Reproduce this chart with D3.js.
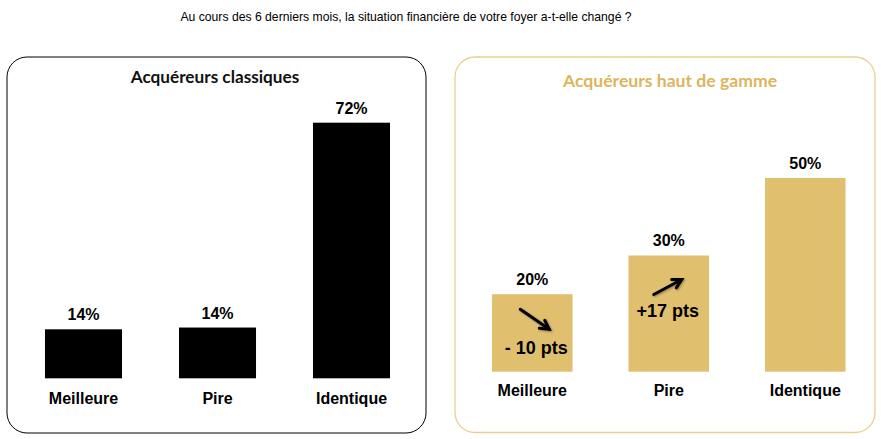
<!DOCTYPE html>
<html><head><meta charset="utf-8">
<script src="https://cdn.jsdelivr.net/npm/d3@7"></script>
<style>body{margin:0;background:#fff}svg{display:block}</style>
</head><body>
<svg id="c" width="881" height="439"></svg>
<script>
// ---- data ----
const mainTitle = "Au cours des 6 derniers mois, la situation financière de votre foyer a-t-elle changé ?";
const categories = ["Meilleure", "Pire", "Identique"];
const classiquesTitle = "Acquéreurs classiques";
const classiquesValues = [13.8, 14.3, 72];
const classiquesLabels = ["14%", "14%", "72%"];
const hautTitle = "Acquéreurs haut de gamme";
const hautValues = [20, 30, 50];
const hautLabels = ["20%", "30%", "50%"];
const hautEvolution = ["- 10 pts", "+17 pts", null];
const hautDirection = [-1, 1, 0];

const gold = "#e0bf6f", goldText = "#dcb55c", goldBorder = "#e9cf93";
const svg = d3.select("#c");

svg.append("text").attr("x", 406).attr("y", 21).attr("text-anchor", "middle")
  .attr("font-family", "Liberation Sans, Arial, sans-serif").attr("font-size", 12.2).attr("fill", "#000")
  .text(mainTitle);

// panel frames
svg.append("rect").attr("x", 7).attr("y", 57).attr("width", 419).attr("height", 376)
  .attr("rx", 20).attr("fill", "none").attr("stroke", "#000").attr("stroke-width", 1);
svg.append("rect").attr("x", 455).attr("y", 57).attr("width", 420).attr("height", 375.5)
  .attr("rx", 20).attr("fill", "none").attr("stroke", goldBorder).attr("stroke-width", 1.3);

const titleFont = "Lato, 'Century Gothic', sans-serif";
svg.append("text").attr("x", 215).attr("y", 83).attr("text-anchor", "middle")
  .attr("font-family", titleFont).attr("font-weight", "bold").attr("font-size", 17.2).attr("fill", "#111")
  .text(classiquesTitle);
svg.append("text").attr("x", 670).attr("y", 86.5).attr("text-anchor", "middle")
  .attr("font-family", titleFont).attr("font-weight", "bold").attr("font-size", 17.6).attr("fill", goldText)
  .text(hautTitle);

const labelFont = "Liberation Sans, Arial, sans-serif";

function panel(opts) {
  const x = d3.scaleBand().domain(categories).range(opts.xr).paddingInner(opts.pi).paddingOuter(opts.pi / 2);
  const y = d3.scaleLinear().domain([0, opts.maxV]).range(opts.yr);
  const g = svg.append("g");
  g.selectAll("rect.bar").data(opts.values).join("rect").attr("class", "bar")
    .attr("x", (d, i) => x(categories[i])).attr("width", x.bandwidth())
    .attr("y", d => y(d)).attr("height", d => y(0) - y(d)).attr("fill", opts.color);
  g.selectAll("text.val").data(opts.values).join("text").attr("class", "val")
    .attr("x", (d, i) => x(categories[i]) + x.bandwidth() / 2).attr("y", d => y(d) - 9)
    .attr("text-anchor", "middle").attr("font-family", labelFont).attr("font-weight", "bold")
    .attr("font-size", 16).text((d, i) => opts.labels[i]);
  const axis = d3.axisBottom(x).tickSize(0).tickPadding(0);
  const ag = g.append("g").attr("transform", `translate(0,${opts.catY})`).call(axis);
  ag.select(".domain").remove();
  ag.selectAll("text").attr("font-family", labelFont).attr("font-weight", "bold")
    .attr("font-size", 16).attr("fill", "#000").attr("dy", 0);
  return {x, y, g};
}

panel({xr: [16.5, 418.5], pi: 0.425, maxV: 72, yr: [378.3, 122.7], values: classiquesValues,
  labels: classiquesLabels, color: "#000", catY: 404});
const hp = panel({xr: [464, 873.5], pi: 0.41, maxV: 50, yr: [371.7, 178], values: hautValues,
  labels: hautLabels, color: gold, catY: 396});

// evolution annotations
const defs = svg.append("defs");
const f = defs.append("filter").attr("id", "sh").attr("x", "-20%").attr("y", "-20%").attr("width", "140%").attr("height", "140%");
f.append("feDropShadow").attr("dx", 1).attr("dy", 1).attr("stdDeviation", 0.8).attr("flood-color", "#000").attr("flood-opacity", 0.35);

hautEvolution.forEach((txt, i) => {
  if (!txt) return;
  const cx = hp.x(categories[i]) + hp.x.bandwidth() / 2;
  const top = hp.y(hautValues[i]);
  const dir = hautDirection[i];
  let x1, y1, x2, y2, ty;
  if (dir < 0) { x1 = cx - 12; y1 = top + 15; x2 = cx + 17; y2 = top + 35; ty = top + 60; }
  else { x1 = cx - 15; y1 = top + 39; x2 = cx + 13; y2 = top + 24; ty = top + 62; }
  const ang = Math.atan2(y2 - y1, x2 - x1);
  const hl = 10, ha = 0.5;
  const ag = svg.append("g").attr("filter", "url(#sh)").attr("stroke", "#000").attr("stroke-width", 3)
    .attr("stroke-linecap", "round").attr("fill", "none");
  ag.append("line").attr("x1", x1).attr("y1", y1).attr("x2", x2).attr("y2", y2);
  ag.append("path").attr("d", `M${x2 - hl * Math.cos(ang - ha)},${y2 - hl * Math.sin(ang - ha)}L${x2},${y2}L${x2 - hl * Math.cos(ang + ha)},${y2 - hl * Math.sin(ang + ha)}`)
    .attr("stroke-linejoin", "miter");
  svg.append("text").attr("x", cx + (dir < 0 ? 4 : -1)).attr("y", ty).attr("text-anchor", "middle")
    .attr("font-family", labelFont).attr("font-weight", "bold").attr("font-size", 18).attr("fill", "#000")
    .text(txt);
});
</script>
</body></html>
